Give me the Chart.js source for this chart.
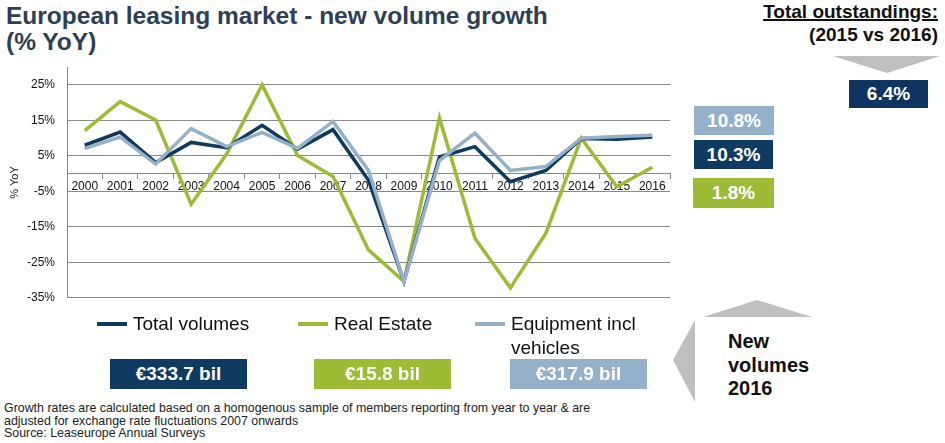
<!DOCTYPE html>
<html>
<head>
<meta charset="utf-8">
<script src="https://cdn.jsdelivr.net/npm/chart.js@4/dist/chart.umd.min.js"></script>
<style>
  body { margin: 0; width: 945px; height: 443px; background: #fff; font-family: Arial, "Liberation Sans", sans-serif; position: relative; overflow: hidden; }
  .abs { position: absolute; }
  #title { left: 6px; top: 3px; font-size: 24.5px; font-weight: bold; color: #2d3f56; line-height: 26px; }
  #outst { right: 7px; top: 0px; font-size: 19px; font-weight: bold; color: #111; text-align: right; line-height: 23px; }
  #outst u { text-decoration-thickness: 2px; }
  .box { color: #fff; font-weight: bold; font-size: 19px; display: flex; align-items: center; justify-content: center; }
  #chartWrap { left: 0; top: 48px; width: 672px; height: 269px; }
  #legend .item { position: absolute; font-size: 19px; color: #111; line-height: 24px; }
  #legend .mark { position: absolute; width: 30px; height: 4px; top: 10px; }
  #note { left: 4px; top: 402px; font-size: 12.4px; color: #222; line-height: 12.5px; }
  #newvol { left: 728px; top: 330px; font-size: 20px; font-weight: bold; color: #111; line-height: 23.5px; }
</style>
</head>
<body>
<div id="title" class="abs">European leasing market - new volume growth<br>(% YoY)</div>
<div id="outst" class="abs"><u>Total outstandings:</u><br>(2015 vs 2016)</div>

<svg class="abs" style="left:0;top:0" width="945" height="443">
  <polygon points="833,56 940,56 887,73" fill="#bfbfbf"/>
  <polygon points="703,317 812,317 757,300" fill="#bfbfbf"/>
  <polygon points="695,320 695,402 673,360" fill="#bfbfbf"/>
</svg>

<div id="chartWrap" class="abs"><canvas id="growthChart"></canvas></div>
<div id="legend"></div>
<div id="boxes"></div>
<div id="newvol" class="abs">New<br>volumes<br>2016</div>
<div id="note" class="abs">Growth rates are calculated based on a homogenous sample of members reporting from year to year &amp; are<br>adjusted for exchange rate fluctuations 2007 onwards<br>Source: Leaseurope Annual Surveys</div>

<script>
// Chart data
const YEARS = ["2000", "2001", "2002", "2003", "2004", "2005", "2006", "2007", "2008",
    "2009", "2010", "2011", "2012", "2013", "2014", "2015", "2016"];
const TOTAL_VOLUMES = [8.0, 11.7, 3.1, 8.8, 7.3, 13.6, 6.9, 12.4, -1.9, -30.4, 4.7, 7.6, -2.3, 0.9, 9.9, 9.7, 10.3];
const REAL_ESTATE = [12.1, 20.3, 15.1, -8.6, 5.5, 25.0, 5.1, -0.8, -21.5, -30.4, 15.7, -18.2, -32.2, -16.8, 10.0, -3.7, 1.8];
const EQUIPMENT = [7.1, 10.3, 2.7, 12.7, 7.6, 11.6, 7.1, 14.7, 0.9, -30.4, 3.7, 11.4, 0.9, 2.0, 10.0, 10.5, 10.8];
const Y_TICKS = [-35, -25, -15, -5, 5, 15, 25];

const SERIES_NAMES = ["Total volumes", "Real Estate", "Equipment incl\nvehicles"];
const SERIES_COLORS = ["#0e3a5e", "#9dbb34", "#95b0c9"];
const GROWTH_2016 = ["10.3%", "1.8%", "10.8%"];
const VOLUMES_2016 = ["\u20ac333.7 bil", "\u20ac15.8 bil", "\u20ac317.9 bil"];
const OUTSTANDINGS_GROWTH = "6.4%";

// Chart
const ctx = document.getElementById("growthChart").getContext("2d");
const seriesData = [TOTAL_VOLUMES, REAL_ESTATE, EQUIPMENT];
const drawOrder = [1, 2, 0]; // navy on top

new Chart(ctx, {
    type: "line",
    data: {
        labels: YEARS,
        datasets: seriesData.map((d, i) => ({
            label: SERIES_NAMES[i],
            data: d,
            borderColor: SERIES_COLORS[i],
            borderWidth: 3.5,
            pointRadius: 0,
            tension: 0,
            order: drawOrder[i]
        }))
    },
    options: {
        responsive: true,
        maintainAspectRatio: false,
        animation: false,
        layout: { padding: { top: 10, right: 2, bottom: 0, left: 0 } },
        plugins: { legend: { display: false }, tooltip: { enabled: false } },
        scales: {
            x: {
                position: { y: 0 },
                offset: true,
                border: { color: "#888", width: 1 },
                grid: { drawOnChartArea: false, drawTicks: true, tickLength: 5, color: "#888", offset: true },
                ticks: { color: "#111", padding: 1, maxRotation: 0, font: { family: "Arial", size: 12 } }
            },
            y: {
                min: -35,
                max: 30,
                afterBuildTicks: (scale) => { scale.ticks = Y_TICKS.map(v => ({ value: v })); },
                afterFit: (scale) => { scale.width = 67; },
                border: { color: "#888", width: 1 },
                grid: { color: "#8a8a8a", borderDash: [2, 1], drawTicks: false },
                ticks: { color: "#111", padding: 12, callback: (v) => v + "%", font: { family: "Arial", size: 12 } },
                title: { display: true, text: "% YoY", color: "#111", padding: { top: 8, bottom: 0 }, font: { family: "Arial", size: 11 } }
            }
        }
    }
});

// Legend and boxes
const legend = document.getElementById("legend");
const legendX = [97, 298, 475];
SERIES_NAMES.forEach((name, i) => {
    const el = document.createElement("div");
    el.className = "item";
    el.style.left = legendX[i] + "px";
    el.style.top = "312px";
    el.innerHTML = '<span class="mark" style="left:0;background:' + SERIES_COLORS[i] + '"></span>' +
        '<span style="position:absolute;left:36px;white-space:pre">' + name + '</span>';
    legend.appendChild(el);
});

const boxes = document.getElementById("boxes");
function addBox(x, y, w, h, color, text) {
    const b = document.createElement("div");
    b.className = "abs box";
    Object.assign(b.style, { left: x + "px", top: y + "px", width: w + "px", height: h + "px", background: color });
    b.textContent = text;
    boxes.appendChild(b);
}
// 2016 growth boxes (right of chart)
addBox(694, 106, 80, 29, SERIES_COLORS[2], GROWTH_2016[2]);
addBox(694, 140, 79, 29, "#0f3a62", GROWTH_2016[0]);
addBox(693, 178, 81, 30, SERIES_COLORS[1], GROWTH_2016[1]);
// outstanding growth
addBox(849, 80, 79, 28, "#0f3462", OUTSTANDINGS_GROWTH);
// new volumes
const volX = [110, 314, 510];
VOLUMES_2016.forEach((v, i) => addBox(volX[i], 359, 137, 30, i === 0 ? "#0f3a62" : SERIES_COLORS[i], v));
</script>
</body>
</html>
